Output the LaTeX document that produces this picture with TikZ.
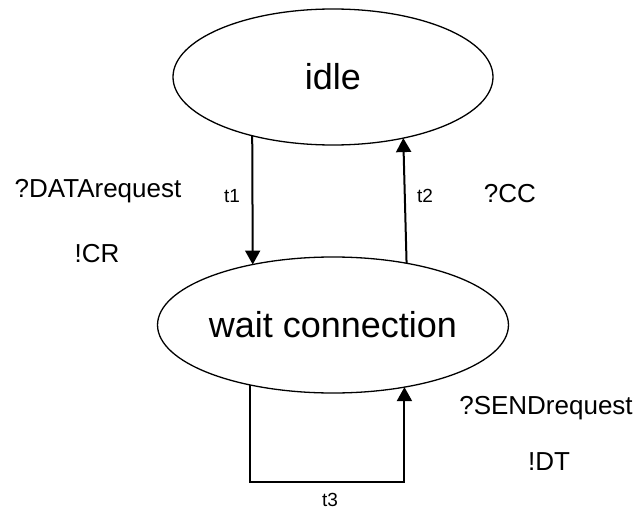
\documentclass[tikz,border=0pt]{standalone}
\usepackage{fontspec}
\setmainfont{Liberation Sans}
\usetikzlibrary{arrows.meta,shapes.geometric}
\tikzset{
	state/.style={draw,ellipse,line width=1.3pt,minimum width=320pt,minimum height=136pt,inner sep=0pt,outer sep=0pt,font=\fontsize{36}{40}\selectfont},
	trans/.style={line width=2pt,-{Triangle[width=15pt,length=14pt]}},
	act/.style={anchor=base,font=\fontsize{26}{30}\selectfont},
	tname/.style={anchor=base,font=\fontsize{19}{22}\selectfont}
}
\begin{document}
\begin{tikzpicture}[x=1pt,y=1pt]
	%	\draw[color=gray,dash pattern=on 1pt off 1pt,step=20pt] (0,0) grid (638,-511);
	\useasboundingbox (0,0) rectangle (638,-511);
	% the two states
	\node[state] (idle) at (333,-77) {idle};
	\node[state] (wait) at (333,-325) {wait connection};
	% t1 and t2 between them
	\draw[trans] (idle.216.8) -- (wait.143.2);
	\draw[trans] (wait.40.1) -- (idle.319.9);
	% t3 loops back under wait connection
	\coordinate (loopbase) at (330,-482);
	\draw[trans] (wait.216.8) |- (loopbase) -| (wait.319.9);
	% transition names
	\node[tname] (t1) at (232,-202) {t1};
	\node[tname] (t2) at (425,-202) {t2};
	\node[tname] (t3) at (330,-506) {t3};
	% inputs and outputs
	\node[act] (datareq) at (98,-197) {?DATArequest};
	\node[act] (cr) at (97,-262) {!CR};
	\node[act] (cc) at (510,-202) {?CC};
	\node[act] (sendreq) at (546,-414) {?SENDrequest};
	\node[act] (dt) at (549,-470) {!DT};
\end{tikzpicture}
\end{document}
